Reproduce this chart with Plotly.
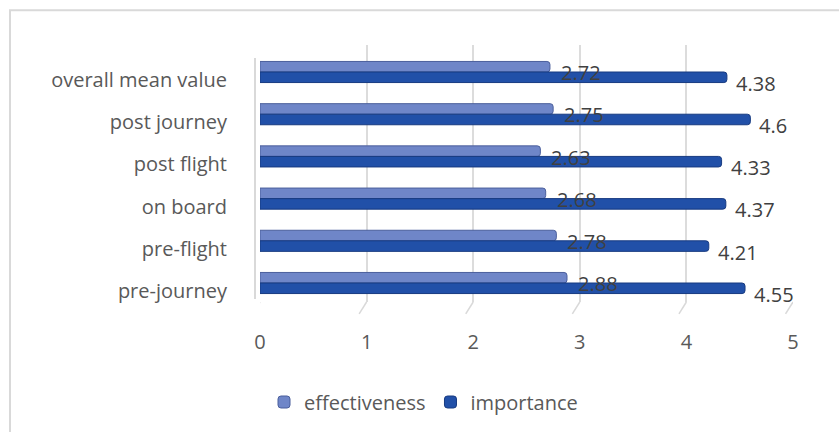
import plotly.graph_objects as go

# Journey stages, listed bottom to top
categories = ["pre-journey", "pre-flight", "on board", "post flight", "post journey", "overall mean value"]
effectiveness = [2.88, 2.78, 2.68, 2.63, 2.75, 2.72]
importance = [4.55, 4.21, 4.37, 4.33, 4.60, 4.38]
x_ticks = [0, 1, 2, 3, 4, 5]

W, H = 839, 432
ML, MR, MT, MB = 260, 46, 45, 129
PW, PH = W - ML - MR, H - MT - MB
Y_RANGE = [-0.45, 5.64]
X_RANGE = [0, 5]


def px_x(p):
    return (p - ML) / PW


def px_y(p):
    return (H - MB - p) / PH


pos = list(range(len(categories)))
BAR_W = 0.25

FONT = "Open Sans"
TXT = "#595959"
FS = 20

fig = go.Figure()
fig.add_trace(go.Bar(
    name="effectiveness", orientation="h", y=pos, x=effectiveness,
    width=BAR_W, offset=0,
    marker=dict(color="#6f86c8", line=dict(color="#4b5f9c", width=1), cornerradius=3),
))
fig.add_trace(go.Bar(
    name="importance", orientation="h", y=pos, x=importance,
    width=BAR_W, offset=-BAR_W,
    marker=dict(color="#2150a8", line=dict(color="#173a80", width=1), cornerradius=3),
))

annotations = []
for i, v in enumerate(effectiveness):
    annotations.append(dict(x=v, y=i + BAR_W / 2, text=f"{v:g}", showarrow=False,
                            xanchor="left", yanchor="middle", xshift=9, yshift=-6,
                            font=dict(family=FONT, size=FS, color="#404040")))
for i, v in enumerate(importance):
    annotations.append(dict(x=v, y=i - BAR_W / 2, text=f"{v:g}", showarrow=False,
                            xanchor="left", yanchor="middle", xshift=7, yshift=-6,
                            font=dict(family=FONT, size=FS, color="#404040")))

shapes = [
    # chart frame
    dict(type="rect", xref="paper", yref="paper",
         x0=px_x(10), x1=px_x(W + 20), y0=px_y(H + 20), y1=px_y(10),
         line=dict(color="#d9d9d9", width=2), layer="below"),
    # side wall edge
    dict(type="line", xref="paper", yref="paper",
         x0=px_x(255), x1=px_x(255), y0=px_y(300), y1=px_y(58),
         line=dict(color="#d9d9d9", width=2), layer="below"),
]
# floor edges below each gridline
for t in x_ticks:
    shapes.append(dict(type="line", xref="x", yref="paper",
                       x0=t, x1=t - 0.07, y0=0, y1=px_y(315),
                       line=dict(color="#d9d9d9", width=1.5), layer="below"))

fig.update_layout(
    width=W, height=H,
    margin=dict(l=ML, r=MR, t=MT, b=MB),
    paper_bgcolor="white", plot_bgcolor="white",
    barmode="overlay",
    font=dict(family=FONT, color=TXT),
    xaxis=dict(range=X_RANGE, tickvals=x_ticks, showgrid=True, gridcolor="#dcdcdc", gridwidth=2,
               zeroline=False, showline=False, ticks="outside", ticklen=22,
               tickcolor="rgba(0,0,0,0)", tickfont=dict(family=FONT, size=FS, color=TXT),
               fixedrange=True),
    yaxis=dict(range=Y_RANGE, tickvals=[p - 0.19 for p in pos], ticktext=categories,
               showgrid=False, zeroline=False, showline=False, ticks="outside", ticklen=28,
               tickcolor="rgba(0,0,0,0)", tickfont=dict(family=FONT, size=FS, color=TXT),
               fixedrange=True),
    showlegend=True,
    legend=dict(orientation="h", x=px_x(264), y=px_y(402), xanchor="left", yanchor="middle",
                font=dict(family=FONT, size=FS, color=TXT), bgcolor="rgba(0,0,0,0)"),
    annotations=annotations,
    shapes=shapes,
)

fig.write_html("out.html")
